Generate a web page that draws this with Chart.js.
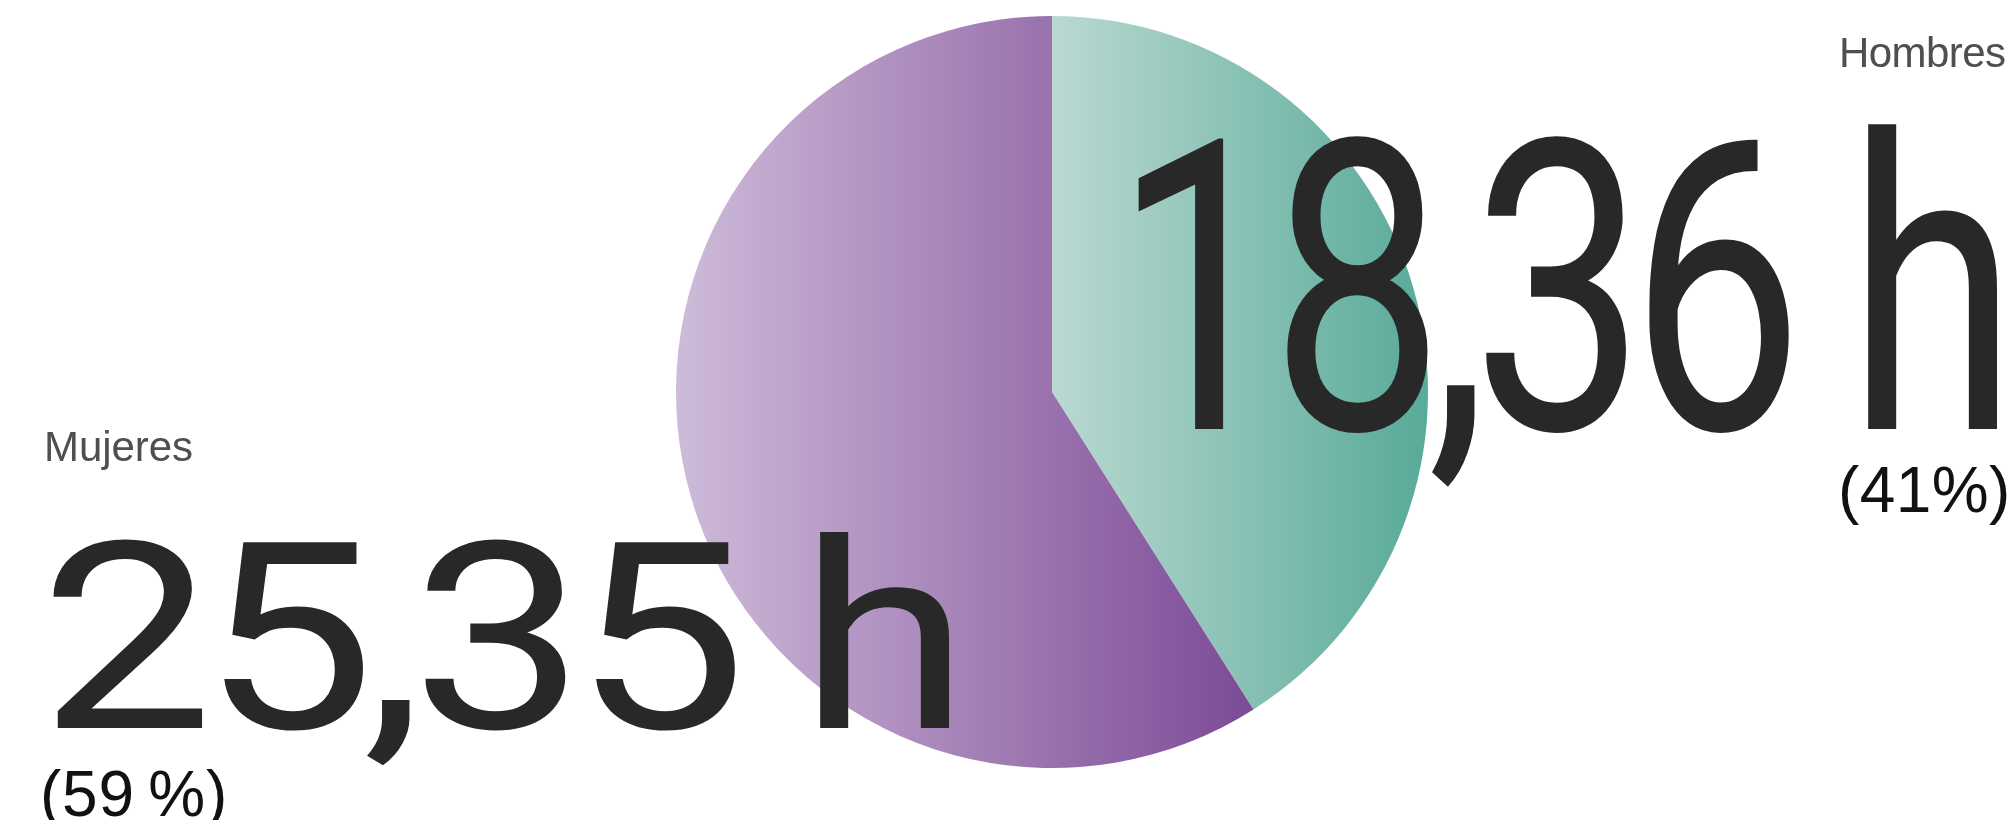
<!DOCTYPE html>
<html>
<head>
<meta charset="utf-8">
<script src="https://cdn.jsdelivr.net/npm/chart.js@4.4.0/dist/chart.umd.min.js"></script>
<style>
  html, body { margin: 0; padding: 0; background: #ffffff; }
  #wrap { position: relative; width: 2010px; height: 820px; }
</style>
</head>
<body>
<div id="wrap"><canvas id="c"></canvas></div>
<script>
// ---- data ----
const categories = ['Hombres', 'Mujeres'];
const hours = [18.36, 25.35];
const percents = [41, 59];
const percentLabels = ['(41%)', '(59\u2009%)'];

const LABEL_FONT = '"Liberation Sans", Arial, Helvetica, sans-serif';
const BIG_FONT = 'Roboto, "Liberation Sans", Arial, sans-serif';

function fmtHours(v) {
  return v.toFixed(2).replace('.', ',') + ' h';
}

// slice colour ramps (light -> dark, left -> right)
const rampColors = [
  ['#bad9d1', '#58aa99'],   // Hombres (green)
  ['#cebbd9', '#7c4a96']    // Mujeres (purple)
];

function geom(chart) {
  const a = chart.chartArea;
  const cx = (a.left + a.right) / 2;
  const cy = (a.top + a.bottom) / 2;
  const r = Math.min(a.right - a.left, a.bottom - a.top) / 2;
  return { cx, cy, r };
}

function sliceBounds(chart, index) {
  const { cx, r } = geom(chart);
  const vals = chart.data.datasets[0].data;
  const total = vals.reduce((s, v) => s + v, 0);
  let start = 0;
  for (let i = 0; i < index; i++) start += vals[i] / total * 2 * Math.PI;
  const end = start + vals[index] / total * 2 * Math.PI;
  const xs = [cx, cx + r * Math.sin(start), cx + r * Math.sin(end)];
  [Math.PI / 2, 3 * Math.PI / 2].forEach(c => { if (c > start && c < end) xs.push(cx + r * Math.sin(c)); });
  return { minX: Math.min(...xs), maxX: Math.max(...xs) };
}

function gradientFor(context) {
  const chart = context.chart;
  if (!chart.chartArea) return rampColors[context.dataIndex][1];
  const i = context.dataIndex;
  const b = sliceBounds(chart, i);
  const g = chart.ctx.createLinearGradient(b.minX, 0, b.maxX, 0);
  g.addColorStop(0, rampColors[i][0]);
  g.addColorStop(1, rampColors[i][1]);
  return g;
}

// draw text so that its ink spans a given width (and optional digit height)
function drawFit(ctx, text, o) {
  ctx.font = o.font;
  ctx.fillStyle = o.color;
  ctx.textAlign = 'left';
  ctx.textBaseline = 'alphabetic';
  const chars = [...text];
  const n = chars.length;
  const m = chars.map(c => ctx.measureText(c));
  const w = m.map(x => x.width);
  const firstL = m[0].actualBoundingBoxLeft;
  const lastR = m[n - 1].actualBoundingBoxRight;
  let sumW = 0;
  for (let i = 0; i < n - 1; i++) sumW += w[i];
  const natural = sumW + lastR + firstL;
  const s = n > 1 ? (o.inkWidth - natural) / (n - 1) : 0;
  let x0;
  if (o.right !== undefined) x0 = o.right - (sumW + (n - 1) * s + lastR);
  else x0 = o.left + firstL;
  let sy = 1;
  if (o.digitHeight) {
    const dh = ctx.measureText(chars[0]).actualBoundingBoxAscent;
    sy = o.digitHeight / dh;
  }
  ctx.save();
  ctx.translate(0, o.baseline);
  ctx.scale(1, sy);
  let px = x0;
  chars.forEach((c, i) => { ctx.fillText(c, px, 0); px += w[i] + s; });
  ctx.restore();
}

const labelPlugin = {
  id: 'bigLabels',
  afterDraw(chart) {
    const ctx = chart.ctx;
    ctx.save();
    // Hombres block (top right)
    drawFit(ctx, categories[0], { font: '42px ' + LABEL_FONT, color: '#4f4f4f', right: 2005, baseline: 67, inkWidth: 163 });
    drawFit(ctx, fmtHours(hours[0]), { font: '310px ' + BIG_FONT, color: '#282828', right: 1997, baseline: 429, inkWidth: 860, digitHeight: 292 });
    drawFit(ctx, percentLabels[0], { font: '64px ' + LABEL_FONT, color: '#111111', right: 2007, baseline: 512, inkWidth: 166 });
    // Mujeres block (bottom left)
    drawFit(ctx, categories[1], { font: '42px ' + LABEL_FONT, color: '#4f4f4f', left: 47, baseline: 461, inkWidth: 145 });
    drawFit(ctx, fmtHours(hours[1]), { font: '310px ' + BIG_FONT, color: '#282828', left: 49, baseline: 728, inkWidth: 900, digitHeight: 192 });
    drawFit(ctx, percentLabels[1], { font: '64px ' + LABEL_FONT, color: '#111111', left: 43, baseline: 816, inkWidth: 181 });
    ctx.restore();
  }
};

new Chart(document.getElementById('c'), {
  type: 'pie',
  data: {
    labels: categories,
    datasets: [{
      data: percents,
      backgroundColor: gradientFor,
      borderWidth: 0,
      hoverOffset: 0
    }]
  },
  options: {
    responsive: true,
    maintainAspectRatio: false,
    animation: false,
    layout: { padding: { left: 600, right: 506, top: 16, bottom: 52 } },
    plugins: {
      legend: { display: false },
      tooltip: { enabled: false }
    },
    events: []
  },
  plugins: [labelPlugin]
});
</script>
</body>
</html>
